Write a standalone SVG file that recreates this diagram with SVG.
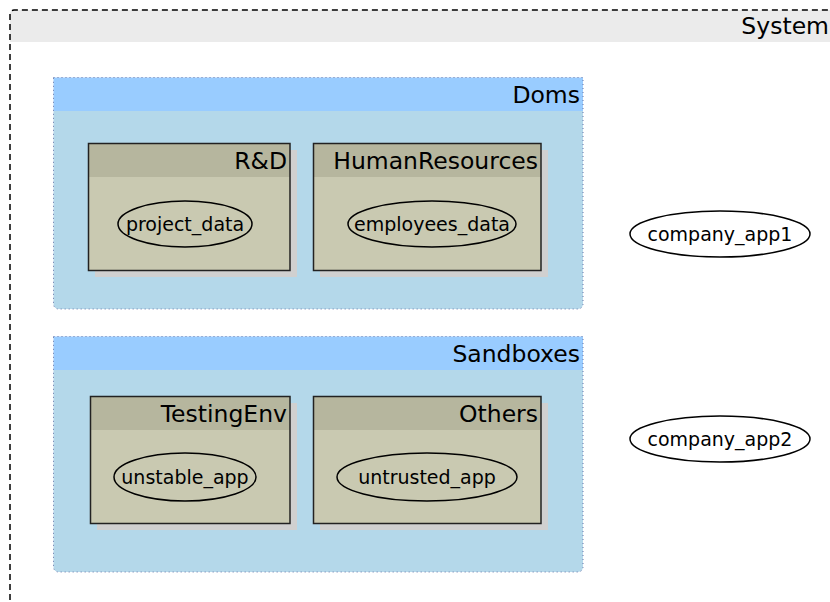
<svg xmlns="http://www.w3.org/2000/svg" width="830" height="602" viewBox="0 0 830 602">
<style>
.t{font-family:"DejaVu Sans",sans-serif;fill:#000}
.title{font-size:23.5px;text-anchor:end}
.lbl{font-size:19px;text-anchor:middle}
.cl-head{fill:#99ccff}
.cl-body{fill:#b4d8ea}
.cl-border{fill:none;stroke:#6677aa;stroke-width:1;stroke-dasharray:1,3}
.shadow{fill:#d0d0d0}
.pk-body{fill:#c9c9b1;stroke:none}
.pk-head{fill:#b6b69e}
.pk-border{fill:none;stroke:#222;stroke-width:1.5}
.ell{fill:none;stroke:#000;stroke-width:1.5}
.ell-w{fill:#fff;stroke:#000;stroke-width:1.5}
</style>
<rect width="830" height="602" fill="#fff"/>
<g id="System">
<path d="M10,42 V14 a4,4 0 0 1 4,-4 H832 V42 Z" fill="#ebebeb"/>
<path d="M10,610 V14 a4,4 0 0 1 4,-4 H832" fill="none" stroke="#000" stroke-width="1.5" stroke-dasharray="6,4"/>
<text class="t title" x="829" y="34">System</text>
</g>
<g id="Doms">
<path class="cl-body" d="M53.5,111 V304 a5,5 0 0 0 5,5 H578 a5,5 0 0 0 5,-5 V111 Z"/>
<rect class="cl-head" x="53.5" y="77.5" width="529.5" height="33.5"/>
<path class="cl-border" d="M53.5,77.5 H583 V304 a5,5 0 0 1 -5,5 H58.5 a5,5 0 0 1 -5,-5 Z"/>
<text class="t title" x="580" y="103">Doms</text>
</g>
<g id="RnD">
<rect class="shadow" x="95" y="150" width="202" height="127"/>
<rect class="pk-body" x="88.5" y="143.5" width="201.5" height="127"/>
<rect class="pk-head" x="88.5" y="143.5" width="201.5" height="33.5"/>
<rect class="pk-border" x="88.5" y="143.5" width="201.5" height="127"/>
<text class="t title" x="287" y="169">R&amp;D</text>
</g>
<g id="project_data">
<ellipse class="ell" cx="185" cy="224" rx="67" ry="23"/>
<text class="t lbl" x="185" y="231">project_data</text>
</g>
<g id="HumanResources">
<rect class="shadow" x="320" y="150" width="228" height="127"/>
<rect class="pk-body" x="313.5" y="143.5" width="227.5" height="127"/>
<rect class="pk-head" x="313.5" y="143.5" width="227.5" height="33.5"/>
<rect class="pk-border" x="313.5" y="143.5" width="227.5" height="127"/>
<text class="t title" x="538" y="169">HumanResources</text>
</g>
<g id="employees_data">
<ellipse class="ell" cx="432" cy="224" rx="84" ry="23"/>
<text class="t lbl" x="432" y="231">employees_data</text>
</g>
<g id="Sandboxes">
<path class="cl-body" d="M53.5,370 V567 a5,5 0 0 0 5,5 H578 a5,5 0 0 0 5,-5 V370 Z"/>
<rect class="cl-head" x="53.5" y="336.5" width="529.5" height="33.5"/>
<path class="cl-border" d="M53.5,336.5 H583 V567 a5,5 0 0 1 -5,5 H58.5 a5,5 0 0 1 -5,-5 Z"/>
<text class="t title" x="580" y="362">Sandboxes</text>
</g>
<g id="TestingEnv">
<rect class="shadow" x="97" y="403" width="200" height="127"/>
<rect class="pk-body" x="90.5" y="396.5" width="199.5" height="127"/>
<rect class="pk-head" x="90.5" y="396.5" width="199.5" height="33.5"/>
<rect class="pk-border" x="90.5" y="396.5" width="199.5" height="127"/>
<text class="t title" x="287" y="422">TestingEnv</text>
</g>
<g id="unstable_app">
<ellipse class="ell" cx="185" cy="477" rx="71" ry="24"/>
<text class="t lbl" x="185" y="484">unstable_app</text>
</g>
<g id="Others">
<rect class="shadow" x="320" y="403" width="228" height="127"/>
<rect class="pk-body" x="313.5" y="396.5" width="227.5" height="127"/>
<rect class="pk-head" x="313.5" y="396.5" width="227.5" height="33.5"/>
<rect class="pk-border" x="313.5" y="396.5" width="227.5" height="127"/>
<text class="t title" x="538" y="422">Others</text>
</g>
<g id="untrusted_app">
<ellipse class="ell" cx="427" cy="477" rx="90" ry="24"/>
<text class="t lbl" x="427" y="484">untrusted_app</text>
</g>
<g id="company_app1">
<ellipse class="ell-w" cx="720" cy="234" rx="90" ry="23"/>
<text class="t lbl" x="720" y="241">company_app1</text>
</g>
<g id="company_app2">
<ellipse class="ell-w" cx="720" cy="439" rx="90" ry="23"/>
<text class="t lbl" x="720" y="446">company_app2</text>
</g>
<g id="connectors"/>
</svg>
